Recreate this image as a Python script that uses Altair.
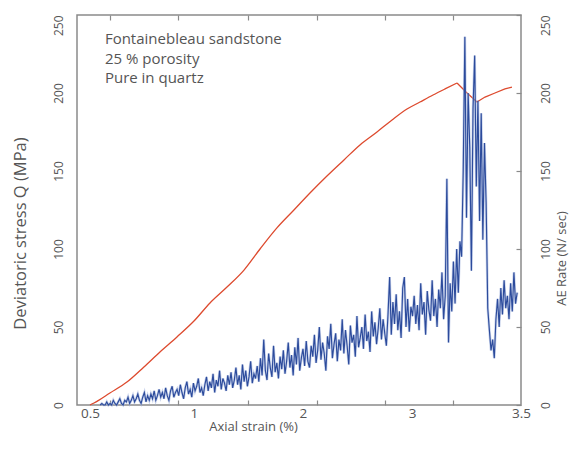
import altair as alt
import pandas as pd

# ---- data ----
# Deviatoric stress Q (MPa) vs axial strain (%): loading branch up to the peak
rise_strain = [0.046, 0.083, 0.229, 0.385, 0.541, 0.688, 0.844, 1.000, 1.147, 1.303,
               1.459, 1.606, 1.761, 1.917, 2.064, 2.220, 2.376, 2.523, 2.679, 2.817,
               2.954, 3.073, 3.193, 3.303, 3.413]
rise_q = [0.0, 1.3, 7.7, 14.7, 24.4, 34.0, 43.6, 53.8, 65.4, 75.6,
          86.5, 100.0, 113.5, 125.0, 135.9, 146.8, 157.1, 166.7, 175.0, 182.7,
          189.7, 194.2, 198.7, 202.6, 206.4]
# post-peak branch
post_strain = [3.413, 3.505, 3.596, 3.670, 3.761, 3.853, 3.917]
post_q = [206.4, 200.0, 194.2, 197.4, 200.0, 202.6, 203.8]

# AE rate (N/sec), sampled every 0.015 % strain from 0.14 %
ae_start = 0.14
ae_step = 0.015
ae_rate = [
    0, 1, 0, 0, 2, 0, 1, 0, 3, 1, 0, 2, 4, 1, 0, 3,
    2, 5, 1, 3, 6, 2, 4, 7, 3, 1, 5, 8, 2, 6, 3, 7,
    4, 9, 3, 6, 10, 5, 8, 4, 11, 6, 3, 9, 12, 5, 8, 10,
    6, 13, 8, 4, 11, 15, 7, 10, 5, 14, 9, 12, 17, 8, 11, 6,
    13, 18, 9, 15, 11, 20, 8, 16, 12, 22, 10, 17, 14, 9, 19, 13,
    21, 11, 16, 24, 13, 19, 10, 26, 15, 22, 12, 18, 28, 14, 20, 17,
    25, 15, 30, 19, 42, 22, 16, 33, 24, 18, 38, 21, 27, 17, 31, 23,
    35, 20, 28, 40, 24, 32, 19, 37, 26, 43, 22, 30, 36, 25, 41, 28,
    24, 38, 31, 45, 27, 35, 50, 29, 40, 33, 22, 44, 36, 52, 30, 39,
    46, 28, 42, 35, 55, 33, 48, 38, 26, 51, 40, 45, 31, 57, 37, 43,
    50, 36, 58, 41, 47, 34, 60, 44, 53, 39, 49, 62, 42, 55, 46, 38,
    58, 82, 45, 66, 52, 71, 48, 60, 43, 75, 82, 50, 68, 47, 63, 57,
    70, 52, 64, 48, 78, 58, 66, 45, 73, 61, 54, 80, 57, 68, 50, 74,
    62, 85, 55, 70, 145, 40, 78, 60, 92, 65, 100, 72, 105, 95, 150, 236,
    120, 200, 165, 86, 190, 224, 140, 195, 118, 187, 106, 168, 130, 62, 48, 35,
    42, 30, 55, 68, 50, 75, 58, 80, 62, 70, 55, 78, 60, 85, 65, 72,
]
ae_strain = [round(ae_start + ae_step * i, 4) for i in range(len(ae_rate))]

# axis label / tick positions (strain units) and texts
x_label_pos = [0.046, 1, 2, 3, 4.0]
x_tick_pos = [0.229, 0.853, 1.495, 2.128, 2.752, 3.376]
y_values = [0, 50, 100, 150, 200, 250]

notes = ["Fontainebleau sandstone", "25 % porosity", "Pure in quartz"]
note_y = [234.6, 221.8, 209.6]
note_x = [0.183, 0.183, 0.183]

df_rise = pd.DataFrame({"strain": rise_strain, "stress": rise_q})
df_post = pd.DataFrame({"strain": post_strain, "stress": post_q})
df_ae = pd.DataFrame({"strain": ae_strain, "ae": ae_rate})
df_notes = pd.DataFrame({"x": note_x, "y": note_y, "note": notes})
df_ticks = pd.DataFrame({"t": x_tick_pos})

FONT = "Open Sans"
TXT = "#555555"
GRAY = "#8a8a8a"
RED = "#dd4a2e"
BLUE = "#2c4b9c"

xscale = alt.Scale(domain=[-0.073, 4.0], nice=False, zero=False)
yq = alt.Scale(domain=[0, 250], nice=False, zero=False)

label_align = {"condition": {"test": "datum.value == 250", "value": "right"}, "value": "center"}

red_rise = alt.Chart(df_rise).mark_line(color=RED, strokeWidth=1.3, interpolate="monotone").encode(
    x=alt.X("strain:Q", scale=xscale,
            axis=alt.Axis(orient="bottom", values=x_label_pos,
                          labelExpr="datum.value < 0.5 ? '0.5' : (datum.value > 3.9 ? '3.5' : datum.label)",
                          ticks=False, domain=False, grid=False, labelFlush=False,
                          labelPadding=1, labelFontSize=13.5, labelColor=TXT,
                          title="Axial strain (%)", titleX=176, titleY=28,
                          titleBaseline="bottom", titleAlign="center",
                          titleFontSize=13, titleFontWeight="normal", titleColor=TXT)),
    y=alt.Y("stress:Q", scale=yq,
            axis=alt.Axis(orient="left", values=y_values, ticks=False, domain=False, grid=False,
                          labelAngle=270, labelPadding=12, labelFontSize=12, labelColor=TXT,
                          labelAlign=label_align,
                          title="Deviatoric stress Q (MPa)", titleAngle=270, titleX=-57, titleY=218,
                          titleBaseline="middle", titleAlign="center",
                          titleFontSize=16.5, titleFontWeight="normal", titleColor=TXT)),
)

red_post = alt.Chart(df_post).mark_line(color=RED, strokeWidth=1.3).encode(
    x=alt.X("strain:Q", scale=xscale, axis=None),
    y=alt.Y("stress:Q", scale=yq, axis=None),
)

blue_halo = alt.Chart(df_ae).mark_line(color="#9eb0dc", strokeWidth=2.6, opacity=0.55).encode(
    x=alt.X("strain:Q", scale=xscale, axis=None),
    y=alt.Y("ae:Q", scale=yq, axis=None),
)

blue = alt.Chart(df_ae).mark_line(color=BLUE, strokeWidth=1.15).encode(
    x=alt.X("strain:Q", scale=xscale, axis=None),
    y=alt.Y("ae:Q", scale=yq,
            axis=alt.Axis(orient="right", values=y_values, tickSize=5, offset=-5,
                          tickColor=GRAY, tickWidth=1.2, domain=False, grid=False,
                          labelAngle=270, labelPadding=19, labelFontSize=12, labelColor=TXT,
                          labelAlign=label_align,
                          title="AE Rate (N/ sec)", titleAngle=270, titleX=39, titleY=243,
                          titleBaseline="top", titleAlign="center",
                          titleFontSize=13, titleFontWeight="normal", titleColor=TXT)),
)

txt = alt.Chart(df_notes).mark_text(align="left", baseline="middle", fontSize=15,
                                     font=FONT, color=TXT).encode(
    x=alt.X("x:Q", scale=xscale, axis=None),
    y=alt.Y("y:Q", scale=yq, axis=None),
    text="note:N",
)

ticks_b = alt.Chart(df_ticks).mark_point(opacity=0).encode(
    x=alt.X("t:Q", scale=xscale,
            axis=alt.Axis(orient="bottom", values=x_tick_pos, labels=False, domain=False,
                          grid=False, ticks=True, tickSize=5, offset=-5,
                          tickColor=GRAY, tickWidth=1.2, title=None)),
)
ticks_t = alt.Chart(df_ticks).mark_point(opacity=0).encode(
    x=alt.X("t:Q", scale=xscale,
            axis=alt.Axis(orient="top", values=x_tick_pos, labels=False, domain=False,
                          grid=False, ticks=True, tickSize=5, offset=-5,
                          tickColor=GRAY, tickWidth=1.2, title=None)),
)

chart = alt.layer(red_rise, red_post, blue_halo, blue, txt, ticks_b, ticks_t).resolve_scale(
    y="shared"
).resolve_axis(
    x="independent", y="independent"
).properties(
    width=444, height=390,
    padding={"left": 69, "top": 7, "right": 48, "bottom": 28},
    autosize=alt.AutoSizeParams(type="none"),
).configure(
    font=FONT,
).configure_view(
    stroke=GRAY, strokeWidth=1.5,
)

chart.save("out.html", embed_options={"renderer": "svg", "actions": False})
